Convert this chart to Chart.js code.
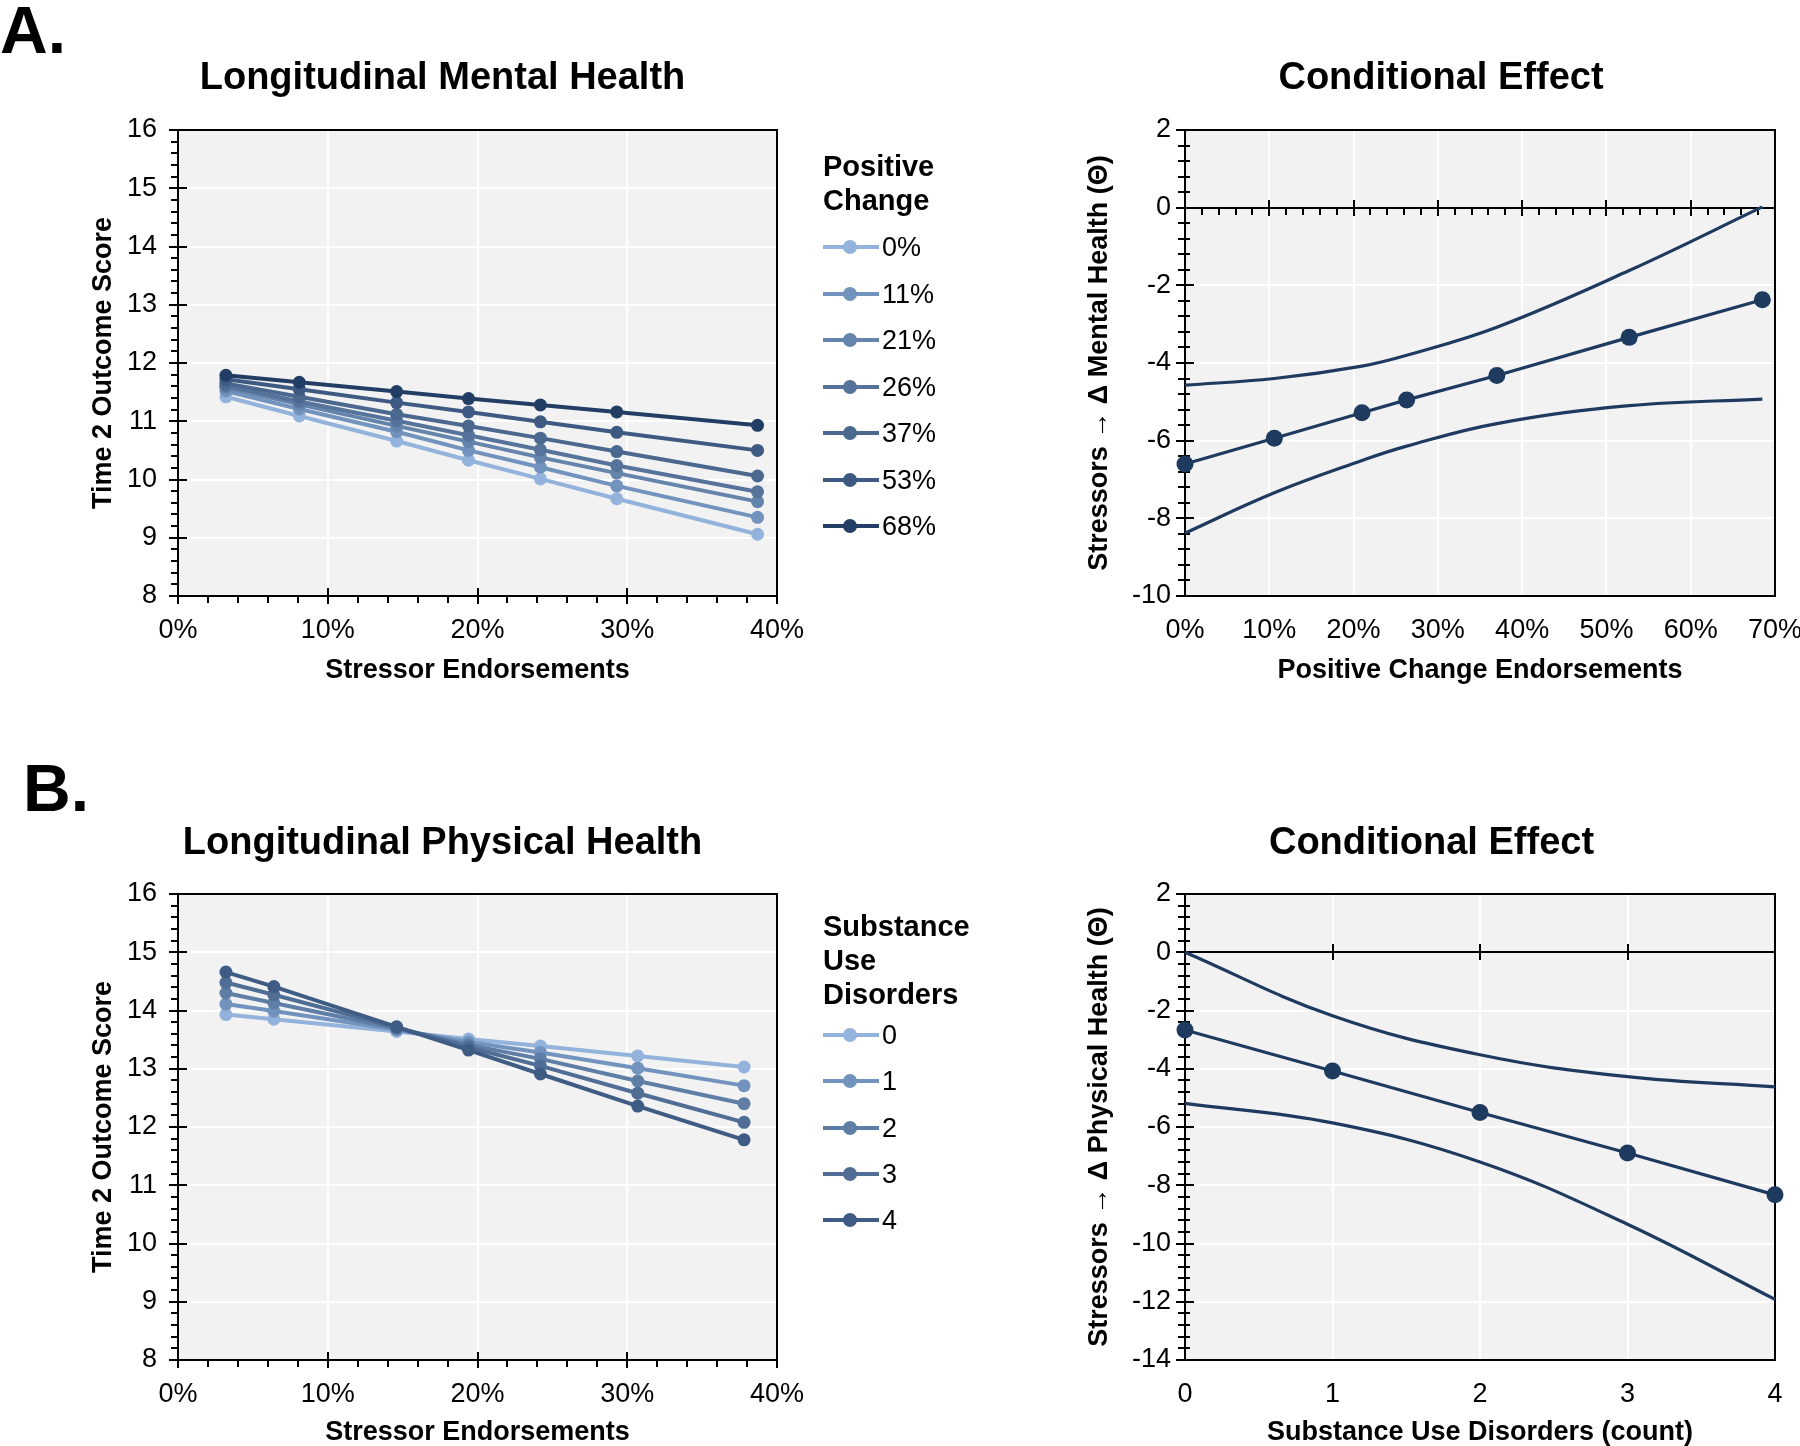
<!DOCTYPE html>
<html>
<head>
<meta charset="utf-8">
<script src="https://cdn.jsdelivr.net/npm/chart.js@4.4.1/dist/chart.umd.min.js"></script>
<style>
  body { margin: 0; background: #fff; width: 1800px; height: 1446px; position: relative; overflow: hidden;
         font-family: "Liberation Sans", Arial, sans-serif; color: #000; }
  .box { position: absolute; }
  .panel { position: absolute; font-weight: bold; font-size: 66px; line-height: 66px; }
  .legend { position: absolute; left: 823px; width: 200px; }
  .ltitle { position: absolute; left: 0; font-weight: bold; font-size: 29px; line-height: 34px; white-space: nowrap; }
  .item { position: absolute; left: 0; height: 34px; width: 160px; }
  .item .ln { position: absolute; left: 0; top: 15px; width: 56px; height: 4px; }
  .item .dot { position: absolute; left: 20px; top: 10px; width: 14px; height: 14px; border-radius: 50%; }
  .item span { position: absolute; left: 59px; top: 0; font-size: 27px; line-height: 34px; }
</style>
</head>
<body>
<div class="panel" style="left:0px; top:-3px;">A.</div>
<div class="panel" style="left:23px; top:755px;">B.</div>

<div class="box" style="left:40px; top:40px;"><canvas id="mentalLines" width="805" height="660"></canvas></div>
<div class="box" style="left:1062px; top:40px;"><canvas id="mentalEffect" width="758" height="660"></canvas></div>
<div class="box" style="left:40px; top:800px;"><canvas id="physicalLines" width="805" height="646"></canvas></div>
<div class="box" style="left:1043px; top:800px;"><canvas id="physicalEffect" width="777" height="646"></canvas></div>

<div class="legend" id="legendA"></div>
<div class="legend" id="legendB"></div>

<script>
// ---- datos ----
// A. Longitudinal Mental Health (x = % de estresores)
const stressorMental = [3.2, 8.1, 14.6, 19.4, 24.2, 29.3, 38.7];
const positiveLabels = ['0%', '11%', '21%', '26%', '37%', '53%', '68%'];
const mental0  = [11.42, 11.09, 10.66, 10.33, 10.01, 9.67, 9.06];
const mental11 = [11.52, 11.21, 10.82, 10.50, 10.21, 9.89, 9.35];
const mental21 = [11.58, 11.29, 10.92, 10.65, 10.38, 10.11, 9.62];
const mental26 = [11.61, 11.34, 11.01, 10.76, 10.51, 10.24, 9.79];
const mental37 = [11.65, 11.42, 11.12, 10.92, 10.71, 10.48, 10.06];
const mental53 = [11.72, 11.55, 11.32, 11.16, 10.99, 10.81, 10.50];
const mental68 = [11.79, 11.67, 11.51, 11.39, 11.28, 11.16, 10.93];

// A. Conditional Effect (x = % positive change)
const positiveX    = [0, 10.6, 21.0, 26.3, 37.0, 52.7, 68.5];
const effectMental = [-6.60, -5.94, -5.28, -4.95, -4.32, -3.34, -2.37];
const upperMental  = [-4.57, -4.40, -4.08, -3.80, -3.08, -1.62, 0.02];
const lowerMental  = [-8.38, -7.34, -6.51, -6.14, -5.56, -5.10, -4.93];

// B. Longitudinal Physical Health
const stressorPhysical = [3.2, 6.4, 14.6, 19.4, 24.2, 30.7, 37.8];
const sudLabels = ['0', '1', '2', '3', '4'];
const physical0 = [13.93, 13.85, 13.64, 13.51, 13.39, 13.22, 13.03];
const physical1 = [14.11, 13.99, 13.67, 13.46, 13.28, 13.01, 12.71];
const physical2 = [14.30, 14.13, 13.69, 13.41, 13.17, 12.79, 12.40];
const physical3 = [14.48, 14.27, 13.71, 13.37, 13.05, 12.58, 12.08];
const physical4 = [14.66, 14.41, 13.72, 13.32, 12.91, 12.36, 11.78];

// B. Conditional Effect (x = numero de trastornos)
const sudX           = [0, 1, 2, 3, 4];
const effectPhysical = [-2.67, -4.08, -5.50, -6.89, -8.33];
const upperPhysical  = [0.0, -2.18, -3.52, -4.27, -4.62];
const lowerPhysical  = [-5.19, -5.86, -7.20, -9.34, -11.92];

// colores
const coloresA = ['#93b3dc', '#7193bd', '#6584ab', '#56739b', '#4b688f', '#3e5a82', '#233e64'];
const coloresB = ['#93b3dc', '#7193bd', '#5f7ea6', '#4f6d95', '#3f5c84'];
const azul = '#1f3a5f';

const FAMILY = '"Liberation Sans", Arial, sans-serif';

// fondo gris, marco y marcas de eje estilo Excel
const excelAxes = {
    id: 'excelAxes',
    beforeDraw(chart) {
        const { ctx, chartArea: a } = chart;
        ctx.save();
        ctx.fillStyle = '#f2f2f2';
        ctx.fillRect(a.left, a.top, a.right - a.left, a.bottom - a.top);
        ctx.restore();
    },
    beforeDatasetsDraw(chart, args, opts) {
        const { ctx, chartArea: a } = chart;
        const x = chart.scales.x, y = chart.scales.y;
        ctx.save();
        ctx.strokeStyle = '#000';
        ctx.lineWidth = 2;
        ctx.strokeRect(a.left, a.top, a.right - a.left, a.bottom - a.top);

        ctx.beginPath();
        // eje y
        const nY = Math.round((y.max - y.min) / opts.yMinor);
        const cadaY = Math.round(opts.yMajor / opts.yMinor);
        for (let i = 0; i <= nY; i++) {
            const py = Math.round(y.getPixelForValue(y.min + i * opts.yMinor));
            const mayor = i % cadaY === 0;
            ctx.moveTo(a.left - (mayor ? 9 : 7), py);
            ctx.lineTo(a.left + (mayor ? 9 : (opts.zero ? 5 : 0)), py);
        }
        // eje x (abajo o en cero)
        const ejeY = opts.zero ? Math.round(y.getPixelForValue(0)) : a.bottom;
        if (opts.zero) {
            ctx.moveTo(a.left, ejeY);
            ctx.lineTo(a.right, ejeY);
        }
        const nX = Math.round((x.max - x.min) / opts.xMinor);
        const cadaX = Math.round(opts.xMajor / opts.xMinor);
        for (let i = 0; i <= nX; i++) {
            const px = Math.round(x.getPixelForValue(x.min + i * opts.xMinor));
            const mayor = i % cadaX === 0;
            ctx.moveTo(px, ejeY - (mayor ? 8 : 0));
            ctx.lineTo(px, ejeY + (mayor ? 8 : 7));
        }
        ctx.stroke();
        ctx.restore();
    }
};

function puntos(xs, ys) {
    return xs.map((x, i) => ({ x: x, y: ys[i] }));
}

function opciones(cfg) {
    return {
        responsive: false,
        animation: false,
        devicePixelRatio: 1,
        layout: { padding: 0 },
        plugins: {
            legend: { display: false },
            tooltip: { enabled: false },
            title: {
                display: true,
                text: cfg.title,
                color: '#000',
                font: { family: FAMILY, size: 38, weight: 'bold', lineHeight: 1.2 },
                padding: { top: cfg.titleTop, bottom: cfg.titleBottom }
            },
            excelAxes: cfg.axes
        },
        scales: {
            x: {
                type: 'linear',
                min: cfg.xMin, max: cfg.xMax,
                afterFit: (s) => { s.height = cfg.xHeight; },
                grid: { color: '#ffffff', lineWidth: 2, drawTicks: false },
                border: { display: false },
                ticks: {
                    stepSize: cfg.xStep, autoSkip: false, maxRotation: 0, padding: 18,
                    color: '#000', font: { family: FAMILY, size: 27 },
                    callback: cfg.xFmt
                },
                title: {
                    display: true, text: cfg.xTitle, color: '#000',
                    font: { family: FAMILY, size: 27, weight: 'bold', lineHeight: 1.2 },
                    padding: { top: 0, bottom: cfg.xTitlePad }
                }
            },
            y: {
                min: cfg.yMin, max: cfg.yMax,
                afterFit: (s) => { s.width = cfg.yWidth; },
                grid: { color: '#ffffff', lineWidth: 2, drawTicks: false },
                border: { display: false },
                ticks: {
                    stepSize: cfg.yStep, autoSkip: false, padding: cfg.yPad,
                    color: '#000', font: { family: FAMILY, size: 27 }
                },
                title: {
                    display: true, text: cfg.yTitle, color: '#000',
                    font: { family: FAMILY, size: 27, weight: 'bold', lineHeight: 1.2 },
                    padding: { top: cfg.yTitlePad, bottom: 0 }
                }
            },
            // eje vacio a la derecha: solo reserva espacio
            margen: {
                type: 'linear', position: 'right',
                afterFit: (s) => { s.width = cfg.padRight; },
                grid: { display: false },
                border: { display: false },
                ticks: { display: false }
            }
        }
    };
}

function serieLinea(label, xs, ys, color, orden) {
    return {
        label: label,
        data: puntos(xs, ys),
        borderColor: color,
        backgroundColor: color,
        borderWidth: 4,
        pointRadius: 6.5,
        pointBorderWidth: 0,
        pointBackgroundColor: color,
        order: orden,
        clip: false
    };
}

function serieIC(label, xs, ys) {
    return {
        label: label,
        data: puntos(xs, ys),
        borderColor: azul,
        borderWidth: 3.2,
        pointRadius: 0,
        tension: 0.4,
        clip: false
    };
}

function serieEfecto(xs, ys) {
    return {
        label: 'Conditional effect',
        data: puntos(xs, ys),
        borderColor: azul, backgroundColor: azul, borderWidth: 3.2,
        pointRadius: 8.5, pointBorderWidth: 0, pointBackgroundColor: azul, clip: false
    };
}

const pct = (v) => v + '%';

// ---- A izquierda ----
const seriesMental = [mental0, mental11, mental21, mental26, mental37, mental53, mental68];
new Chart(document.getElementById('mentalLines'), {
    type: 'line',
    data: {
        datasets: seriesMental.map((ys, i) =>
            serieLinea(positiveLabels[i], stressorMental, ys, coloresA[i], seriesMental.length - i))
    },
    options: opciones({
        title: 'Longitudinal Mental Health', titleTop: 16, titleBottom: 28.4,
        padRight: 68, xMin: 0, xMax: 40, xStep: 10, xFmt: pct, xHeight: 104, xTitlePad: 13.5,
        xTitle: 'Stressor Endorsements',
        yMin: 8, yMax: 16, yStep: 1, yWidth: 138, yPad: 21, yTitlePad: 47,
        yTitle: 'Time 2 Outcome Score',
        axes: { yMajor: 1, yMinor: 0.2, xMajor: 10, xMinor: 2, zero: false }
    }),
    plugins: [excelAxes]
});

// ---- A derecha ----
new Chart(document.getElementById('mentalEffect'), {
    type: 'line',
    data: {
        datasets: [
            serieEfecto(positiveX, effectMental),
            serieIC('Upper', positiveX, upperMental),
            serieIC('Lower', positiveX, lowerMental)
        ]
    },
    options: opciones({
        title: 'Conditional Effect', titleTop: 16, titleBottom: 28.4,
        padRight: 45, xMin: 0, xMax: 70, xStep: 10, xFmt: pct, xHeight: 104, xTitlePad: 13.5,
        xTitle: 'Positive Change Endorsements',
        yMin: -10, yMax: 2, yStep: 2, yWidth: 123, yPad: 14, yTitlePad: 21.8,
        yTitle: 'Stressors \u2192 \u0394 Mental Health (\u0398)',
        axes: { yMajor: 2, yMinor: 0.4, xMajor: 10, xMinor: 2, zero: true }
    }),
    plugins: [excelAxes]
});

// ---- B izquierda ----
const seriesPhysical = [physical0, physical1, physical2, physical3, physical4];
new Chart(document.getElementById('physicalLines'), {
    type: 'line',
    data: {
        datasets: seriesPhysical.map((ys, i) =>
            serieLinea(sudLabels[i], stressorPhysical, ys, coloresB[i], seriesPhysical.length - i))
    },
    options: opciones({
        title: 'Longitudinal Physical Health', titleTop: 20.5, titleBottom: 27.9,
        padRight: 68, xMin: 0, xMax: 40, xStep: 10, xFmt: pct, xHeight: 86, xTitlePad: -3,
        xTitle: 'Stressor Endorsements',
        yMin: 8, yMax: 16, yStep: 1, yWidth: 138, yPad: 21, yTitlePad: 47,
        yTitle: 'Time 2 Outcome Score',
        axes: { yMajor: 1, yMinor: 0.2, xMajor: 10, xMinor: 2, zero: false }
    }),
    plugins: [excelAxes]
});

// ---- B derecha ----
new Chart(document.getElementById('physicalEffect'), {
    type: 'line',
    data: {
        datasets: [
            serieEfecto(sudX, effectPhysical),
            serieIC('Upper', sudX, upperPhysical),
            serieIC('Lower', sudX, lowerPhysical)
        ]
    },
    options: opciones({
        title: 'Conditional Effect', titleTop: 20.5, titleBottom: 27.9,
        padRight: 45, xMin: 0, xMax: 4, xStep: 1, xFmt: (v) => v, xHeight: 86, xTitlePad: -3,
        xTitle: 'Substance Use Disorders (count)',
        yMin: -14, yMax: 2, yStep: 2, yWidth: 142, yPad: 14, yTitlePad: 40.8,
        yTitle: 'Stressors \u2192 \u0394 Physical Health (\u0398)',
        axes: { yMajor: 2, yMinor: 0.4, xMajor: 1, xMinor: 1, zero: true }
    }),
    plugins: [excelAxes]
});

// ---- leyendas en HTML ----
function leyenda(id, tituloLineas, labels, colores, top, primerCentro, paso) {
    const el = document.getElementById(id);
    el.style.top = top + 'px';
    let html = `<div class="ltitle" style="top:0px">${tituloLineas.join('<br>')}</div>`;
    labels.forEach((lab, i) => {
        const t = primerCentro - top + i * paso - 17;
        html += `<div class="item" style="top:${t}px">
            <div class="ln" style="background:${colores[i]}"></div>
            <div class="dot" style="background:${colores[i]}"></div>
            <span>${lab}</span></div>`;
    });
    el.innerHTML = html;
}
leyenda('legendA', ['Positive', 'Change'], positiveLabels, coloresA, 149, 247, 46.5);
leyenda('legendB', ['Substance', 'Use', 'Disorders'], sudLabels, coloresB, 909, 1035, 46.3);
</script>
</body>
</html>
